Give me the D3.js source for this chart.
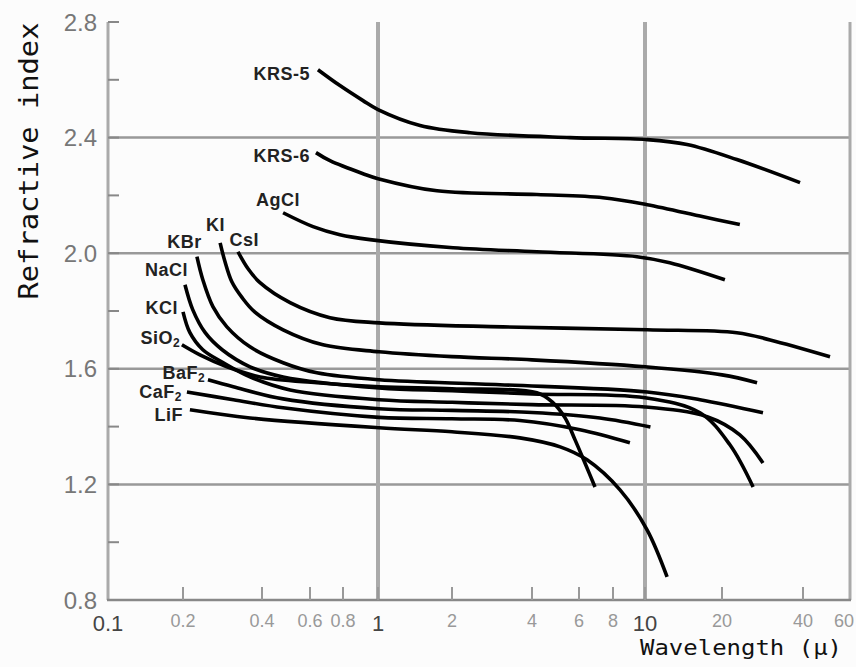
<!DOCTYPE html>
<html><head><meta charset="utf-8">
<script src="https://cdn.jsdelivr.net/npm/d3@7"></script>
<style>body{margin:0;background:#fcfcfc;} svg{display:block}</style>
</head><body><svg id="c" width="856" height="667"></svg>
<script>
// ---- axis data ----
const xTicks = [0.1,0.2,0.4,0.6,0.8,1,2,4,6,8,10,20,40,60];
const xTickLabels = ["0.1","0.2","0.4","0.6","0.8","1","2","4","6","8","10","20","40","60"];
const xMajor = [0.1,1,10];
const xGrid = [1,10];
const yTicks = [0.8,1.2,1.6,2.0,2.4,2.8];
const yTickLabels = ["0.8","1.2","1.6","2.0","2.4","2.8"];
const yMinor = [1.0,1.4,1.8,2.2,2.6];
const yGrid = [1.2,1.6,2.0,2.4];

// ---- series: [wavelength (µ), refractive index] ----
const KRS5 = [[0.643,2.635],[0.779,2.580],[0.909,2.528],[1,2.497],[1.483,2.442],[2.34,2.417],[5.55,2.400],[10.2,2.393],[14.6,2.376],[22.7,2.324],[39,2.244]];
const KRS6 = [[0.632,2.348],[0.714,2.320],[0.909,2.275],[1,2.258],[1.738,2.216],[4.17,2.203],[7.35,2.192],[10.2,2.168],[16.9,2.126],[23.3,2.099]];
const AgCl = [[0.478,2.140],[0.616,2.092],[0.779,2.064],[0.95,2.047],[2.02,2.019],[4.17,2.005],[9.46,1.988],[12.5,1.967],[20.5,1.908]];
const CsI  = [[0.324,2.005],[0.354,1.946],[0.393,1.898],[0.507,1.829],[0.714,1.777],[1.01,1.759],[3.11,1.745],[10.2,1.735],[22.7,1.725],[30.2,1.700],[50.5,1.642]];
const KI   = [[0.277,2.036],[0.289,1.971],[0.307,1.901],[0.336,1.846],[0.375,1.797],[0.478,1.735],[0.672,1.683],[1.01,1.659],[2,1.642],[4,1.631],[10,1.607],[20,1.579],[27,1.552]];
const KBr  = [[0.226,1.988],[0.238,1.908],[0.26,1.815],[0.294,1.745],[0.36,1.676],[0.478,1.621],[0.637,1.586],[1.01,1.562],[3.03,1.545],[10.2,1.520],[16.4,1.493],[28.4,1.448]];
const NaCl = [[0.2035,1.891],[0.218,1.804],[0.243,1.725],[0.282,1.666],[0.36,1.607],[0.478,1.572],[1.01,1.534],[2,1.524],[4,1.513],[10,1.500],[16.4,1.448],[21.4,1.337],[26.1,1.191]];
const KCl  = [[0.2,1.797],[0.2125,1.725],[0.238,1.666],[0.285,1.621],[0.36,1.572],[0.507,1.527],[1.01,1.493],[2,1.484],[4,1.476],[10,1.468],[17.5,1.434],[23.3,1.371],[28.4,1.274]];
const SiO2 = [[0.198,1.683],[0.232,1.648],[0.294,1.607],[0.393,1.572],[0.637,1.552],[1.01,1.538],[2,1.531],[4.17,1.517],[4.79,1.483],[5.32,1.430],[5.8,1.354],[6.31,1.274],[6.87,1.191]];
const BaF2 = [[0.249,1.562],[0.311,1.538],[0.478,1.496],[1.01,1.462],[2,1.456],[4,1.449],[7.16,1.430],[10.5,1.399]];
const CaF2 = [[0.207,1.520],[0.311,1.493],[0.478,1.465],[1.01,1.432],[2,1.427],[3.6,1.421],[6.05,1.389],[9.0,1.344]];
const LiF  = [[0.2125,1.458],[0.36,1.430],[1.01,1.396],[2,1.382],[3.6,1.361],[5.1,1.330],[6.42,1.285],[8.4,1.181],[10.2,1.042],[12.2,0.880]];
const seriesList = [KRS5,KRS6,AgCl,CsI,KI,KBr,NaCl,KCl,SiO2,BaF2,CaF2,LiF];

// ---- curve labels (text, subscript, wavelength, index at label's right end) ----
const labelText = ["KRS-5","KRS-6","AgCl","CsI","KI","KBr","NaCl","KCl","SiO","BaF","CaF","LiF"];
const labelSub  = ["","","","","","","","","2","2","2",""];
const labelLam  = [0.6,0.6,0.551,0.39,0.289,0.236,0.209,0.191,0.195,0.243,0.198,0.2];
const labelN    = [2.622,2.338,2.185,2.047,2.099,2.040,1.943,1.811,1.707,1.586,1.520,1.441];

// ---- scales ----
const svg = d3.select("#c");
const x = d3.scaleLog()
  .domain(xTicks)
  .range([108,183,262,310,343,378,452,532,579,613,645,722,803,850]);
const y = d3.scaleLinear().domain([0.8,2.8]).range([600,22]);

// grid
svg.append("g").selectAll("line").data(yGrid).join("line")
  .attr("x1",108).attr("x2",850).attr("y1",d=>y(d)).attr("y2",d=>y(d))
  .attr("stroke","#999").attr("stroke-width",2.5);
svg.append("g").selectAll("line").data(xGrid).join("line")
  .attr("x1",d=>x(d)).attr("x2",d=>x(d)).attr("y1",y(2.8)).attr("y2",y(0.8))
  .attr("stroke","#aaa").attr("stroke-width",4);

// axes lines
svg.append("line").attr("x1",108).attr("x2",108).attr("y1",y(2.8)).attr("y2",y(0.8)).attr("stroke","#aaa").attr("stroke-width",3);
svg.append("line").attr("x1",850).attr("x2",850).attr("y1",y(2.8)).attr("y2",y(0.8)).attr("stroke","#aaa").attr("stroke-width",3);
svg.append("line").attr("x1",107).attr("x2",851).attr("y1",600).attr("y2",600).attr("stroke","#888").attr("stroke-width",2.5);

// y ticks
svg.append("g").selectAll("line").data(yTicks.concat(yMinor)).join("line")
  .attr("x1",108).attr("x2",119).attr("y1",d=>y(d)).attr("y2",d=>y(d))
  .attr("stroke","#888").attr("stroke-width",2);
svg.append("g").selectAll("text").data(yTicks).join("text")
  .attr("x",97).attr("y",d=>y(d)).attr("dy","0.36em")
  .attr("text-anchor","end").attr("font-family","Liberation Sans, Arial, sans-serif")
  .attr("font-size",24).attr("fill","#777")
  .text((d,i)=>yTickLabels[i]);

// x ticks
svg.append("g").selectAll("line").data(xTicks.filter(d=>d>0.1&&d<60)).join("line")
  .attr("x1",d=>x(d)).attr("x2",d=>x(d)).attr("y1",600).attr("y2",587)
  .attr("stroke","#999").attr("stroke-width",2);
svg.append("g").selectAll("text").data(xTicks).join("text")
  .attr("x",d=>d===60?854:x(d)).attr("y",d=>xMajor.includes(d)?631:627)
  .attr("text-anchor",d=>d===60?"end":"middle").attr("font-family","Liberation Sans, Arial, sans-serif")
  .attr("font-size",d=>xMajor.includes(d)?22:18)
  .attr("fill",d=>xMajor.includes(d)?"#444":"#999")
  .text((d,i)=>xTickLabels[i]);

// axis titles
svg.append("text").attr("transform","translate(38,161) rotate(-90)")
  .attr("text-anchor","middle").attr("font-family","DejaVu Sans Mono, monospace")
  .attr("font-size",27).attr("fill","#111")
  .attr("textLength",277).attr("lengthAdjust","spacingAndGlyphs")
  .text("Refractive index");
svg.append("text").attr("x",640).attr("y",655)
  .attr("font-family","DejaVu Sans Mono, monospace")
  .attr("font-size",22).attr("fill","#111")
  .attr("textLength",202).attr("lengthAdjust","spacingAndGlyphs")
  .text("Wavelength (μ)");

// curves
const line = d3.line().x(d=>x(d[0])).y(d=>y(d[1])).curve(d3.curveCatmullRom.alpha(0.5));
svg.append("g").selectAll("path").data(seriesList).join("path")
  .attr("d",line).attr("fill","none").attr("stroke","#000").attr("stroke-width",3.6);

// labels
const lg = svg.append("g").attr("font-family","Liberation Sans, Arial, sans-serif")
  .attr("font-size",18).attr("font-weight","bold").attr("fill","#222");
labelText.forEach((t,i)=>{
  const tx = lg.append("text").attr("x",x(labelLam[i])).attr("y",y(labelN[i])).attr("dy","0.36em")
    .attr("text-anchor","end").attr("letter-spacing",0.5);
  tx.append("tspan").text(t);
  if(labelSub[i]) tx.append("tspan").attr("font-size",12).attr("dy","0.25em").text(labelSub[i]);
});
</script></body></html>
